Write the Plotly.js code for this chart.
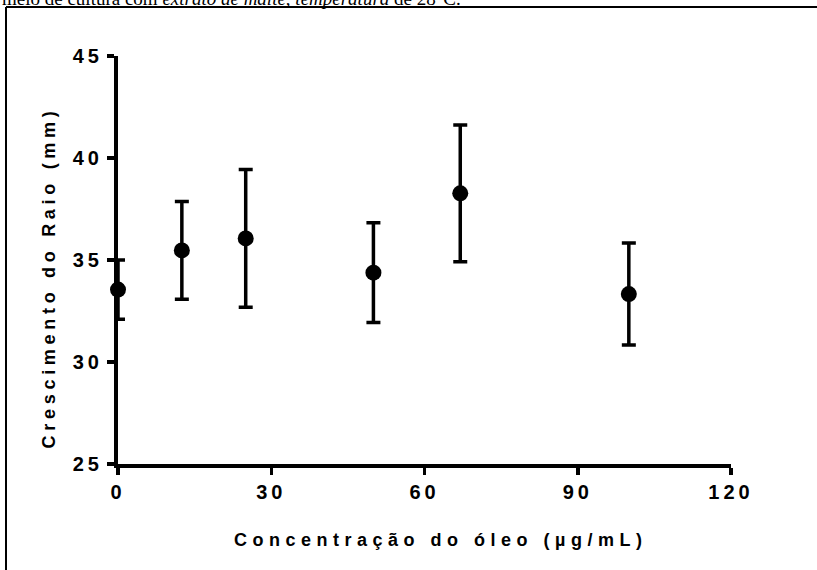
<!DOCTYPE html>
<html>
<head>
<meta charset="utf-8">
<script src="https://cdn.plot.ly/plotly-3.0.1.min.js"></script>
<style>
  html, body { margin: 0; padding: 0; background: #fff; }
  #chart { width: 817px; height: 570px; }
  .caption-x text { letter-spacing: 5.5px !important; }
  .caption-y text { letter-spacing: 4.7px !important; }
  .xtick text, .ytick text, .xtick tspan, .ytick tspan { letter-spacing: 4px !important; }
</style>
</head>
<body>
<div id="chart"></div>
<script>
// Oil concentration (µg/mL) and mean radial growth (mm) with error (mm)
const concentracao = [0, 12.5, 25, 50, 67, 100];
const crescimento = [33.55, 35.47, 36.06, 34.38, 38.27, 33.33];
const erro = [1.45, 2.4, 3.38, 2.44, 3.35, 2.5];

const xTicks = [0, 30, 60, 90, 120];
const yTicks = [25, 30, 35, 40, 45];

const tituloX = 'Concentração do óleo (µg/mL)';
const tituloY = 'Crescimento do Raio (mm)';
const legenda = 'meio de cultura com <i>extrato de malte</i>, <i>temperatura</i> de 28°C.';

const W = 817, H = 570;
const margin = { l: 118, r: 86, t: 56, b: 106 };
const plotW = W - margin.l - margin.r;
const plotH = H - margin.t - margin.b;
// convert page pixels to paper coordinates for the frame and captions
const px = x => (x - margin.l) / plotW;
const py = y => (H - margin.b - y) / plotH;

const tickFont = { family: 'Liberation Sans, Arial, sans-serif', size: 20, color: '#000', weight: 'bold' };
const titleFont = { family: 'Liberation Sans, Arial, sans-serif', size: 18, color: '#000', weight: 'bold' };

// tick labels wrapped in a span so they get their own tspan with wide tracking
const spaced = v => '<span style="letter-spacing:4px">' + v + '</span>';

const trace = {
  x: concentracao,
  y: crescimento,
  type: 'scatter',
  mode: 'markers',
  marker: { color: '#000', size: 16, symbol: 'circle' },
  error_y: { type: 'data', array: erro, visible: true, color: '#000', thickness: 3.5, width: 7 },
  cliponaxis: false,
  hoverinfo: 'x+y'
};

const axisBase = {
  showgrid: false,
  zeroline: false,
  showline: true,
  linecolor: '#000',
  linewidth: 4,
  ticks: 'outside',
  ticklen: 7,
  tickwidth: 3.5,
  tickcolor: '#000',
  tickfont: tickFont
};

const layout = {
  width: W,
  height: H,
  margin: margin,
  paper_bgcolor: '#fff',
  plot_bgcolor: '#fff',
  showlegend: false,
  xaxis: Object.assign({}, axisBase, {
    range: [0, 120],
    tickvals: xTicks,
    ticktext: xTicks.map(v => spaced(String(v)))
  }),
  yaxis: Object.assign({}, axisBase, {
    range: [25, 45],
    tickvals: yTicks,
    ticktext: yTicks.map(v => spaced(String(v)))
  }),
  shapes: [
    { type: 'line', xref: 'paper', yref: 'paper', x0: px(6), x1: px(W + 5), y0: py(7), y1: py(7), line: { color: '#000', width: 2 } },
    { type: 'line', xref: 'paper', yref: 'paper', x0: px(6), x1: px(6), y0: py(7), y1: py(H + 5), line: { color: '#000', width: 2 } }
  ],
  annotations: [
    {
      text: legenda,
      xref: 'paper', yref: 'paper',
      x: px(0), y: py(-14),
      xanchor: 'left', yanchor: 'top',
      showarrow: false,
      font: { family: 'Liberation Serif, Times New Roman, serif', size: 19, color: '#000' }
    },
    {
      text: tituloY,
      xref: 'paper', yref: 'paper',
      x: px(49), y: py(278),
      xanchor: 'center', yanchor: 'middle',
      textangle: -90,
      showarrow: false,
      font: titleFont
    },
    {
      text: tituloX,
      xref: 'paper', yref: 'paper',
      x: px(440), y: py(540),
      xanchor: 'center', yanchor: 'middle',
      showarrow: false,
      font: titleFont
    }
  ]
};

const gd = document.getElementById('chart');

Plotly.newPlot(gd, [trace], layout, { staticPlot: true, displayModeBar: false }).then(() => {
  const notes = gd.querySelectorAll('.annotation');
  if (notes[1]) notes[1].classList.add('caption-y');
  if (notes[2]) notes[2].classList.add('caption-x');
});
</script>
</body>
</html>
